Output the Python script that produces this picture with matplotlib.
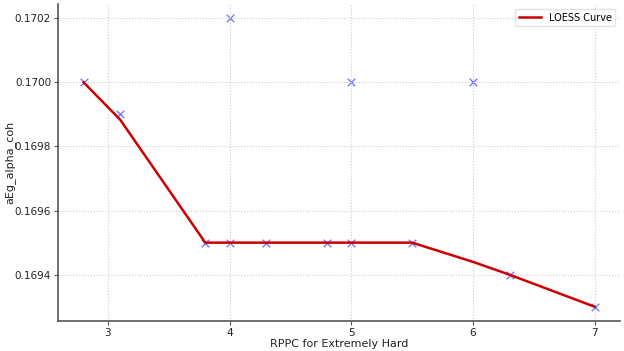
import numpy as np
import matplotlib
matplotlib.use("Agg")
from matplotlib import pyplot as plt

# scatter data
rppc = [2.8, 3.1, 3.8, 4.0, 4.0, 4.3, 4.8, 5.0, 5.0, 5.5, 6.0, 6.3, 7.0]
aeg = [0.1700, 0.1699, 0.1695, 0.1702, 0.1695, 0.1695, 0.1695,
       0.1700, 0.1695, 0.1695, 0.1700, 0.1694, 0.1693]

# smoothed curve
loess_x = [2.8, 3.1, 3.8, 4.0, 4.3, 4.8, 5.0, 5.5, 6.0, 6.3, 7.0]
loess_y = [0.1700, 0.169884, 0.1695, 0.1695, 0.1695, 0.1695, 0.1695,
           0.1695, 0.16944, 0.1694, 0.1693]

fig = plt.figure(figsize=(6.24, 3.51), dpi=100)
ax = fig.add_axes([0.093, 0.085, 0.901, 0.904])

ax.scatter(rppc, aeg, marker='x', color='#4040ff', alpha=0.7, s=30, linewidths=1)
ax.plot(loess_x, loess_y, color='#cc0000', lw=1.8, label='LOESS Curve')

ax.set_xlabel('RPPC for Extremely Hard', fontsize=8, color='#222222', labelpad=1)
ax.set_ylabel('aEg_alpha_coh', fontsize=8, color='#222222')
ax.yaxis.set_label_coords(-0.076, 0.5)
ax.set_xticks([3, 4, 5, 6, 7])
ax.set_yticks([0.1694, 0.1696, 0.1698, 0.1700, 0.1702])
ax.yaxis.set_major_formatter(matplotlib.ticker.FormatStrFormatter('%.4f'))
ax.tick_params(labelsize=7.5, colors='#555555', labelcolor='#222222', length=3, pad=2)

ax.grid(True, linestyle=':', color='#cccccc', lw=0.8)
for s in ['top', 'right']:
    ax.spines[s].set_visible(False)
for s in ['left', 'bottom']:
    ax.spines[s].set_color('#555555')
    ax.spines[s].set_linewidth(1.2)

ax.legend(loc='upper right', fontsize=7, frameon=True, edgecolor='#dddddd',
          handlelength=2.2)

plt.savefig('out.png', dpi=100)
